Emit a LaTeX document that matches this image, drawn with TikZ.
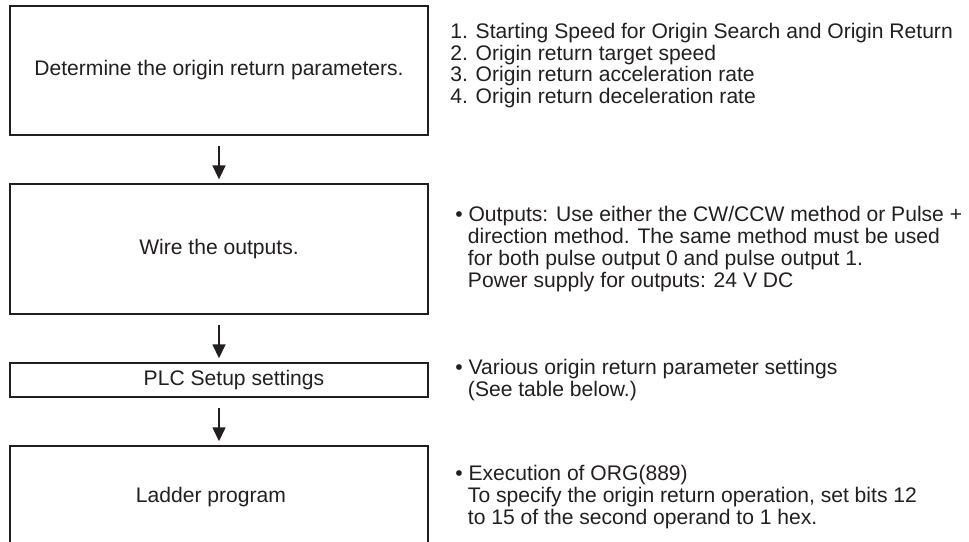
\documentclass[tikz,border=0pt]{standalone}
\usepackage{fontspec}
\setmainfont{Liberation Sans}
\usepackage{xcolor}
\usepackage{tikz}
\usetikzlibrary{positioning,arrows.meta}
\definecolor{ink}{HTML}{231F20}

\begin{document}
\begin{tikzpicture}[
    node distance=0.93cm,
    every node/.style={font=\fontsize{12}{12.4}\selectfont, text=ink},
    stage/.style={draw=ink, line width=1.4pt, minimum width=8.36cm, inner sep=0pt, align=center},
    note/.style={align=left, inner sep=0pt},
    flow/.style={draw=ink, line width=1.5pt, -{Triangle[length=0.28cm,width=0.25cm]}}
]
\useasboundingbox (0,0) rectangle (19.38,-10.82);
\clip (0,0) rectangle (19.38,-10.82);

% steps
\node[stage, minimum height=2.58cm] (b1) at (4.38,-1.41) {Determine the origin return parameters.};
\node[stage, minimum height=2.60cm, below=of b1] (b2) {Wire the outputs.};
\node[stage, minimum height=0.68cm, below=of b2] (b3) {\hspace*{0.6cm}PLC Setup settings};
\node[stage, minimum height=2.04cm, below=of b3] (b4) {Ladder program\hspace*{0.32cm}};

% arrows between steps
\draw[flow] ([yshift=-0.2cm]b1.south) -- ([yshift=0.065cm]b2.north);
\draw[flow] ([yshift=-0.2cm]b2.south) -- ([yshift=0.065cm]b3.north);
\draw[flow] ([yshift=-0.2cm]b3.south) -- ([yshift=0.065cm]b4.north);

% notes on the right
\node[note, right=0.415cm of b1, yshift=0.1cm] (n1) {1. Starting Speed for Origin Search and Origin Return\\
    2. Origin return target speed\\
    3. Origin return acceleration rate\\
    4. Origin return deceleration rate};
\node[note, right=0.515cm of b2] (n2) {\textbullet\ Outputs: Use either the CW/CCW method or Pulse +\\
    \hspace*{0.6em}direction method. The same method must be used\\
    \hspace*{0.6em}for both pulse output 0 and pulse output 1.\\
    \hspace*{0.6em}Power supply for outputs: 24 V DC};
\node[note, right=0.515cm of b3] (n3) {\textbullet\ Various origin return parameter settings\\
    \hspace*{0.6em}(See table below.)};
\node[note, right=0.515cm of b4] (n4) {\textbullet\ Execution of ORG(889)\\
    \hspace*{0.6em}To specify the origin return operation, set bits 12\\
    \hspace*{0.6em}to 15 of the second operand to 1 hex.};

\end{tikzpicture}
\end{document}
